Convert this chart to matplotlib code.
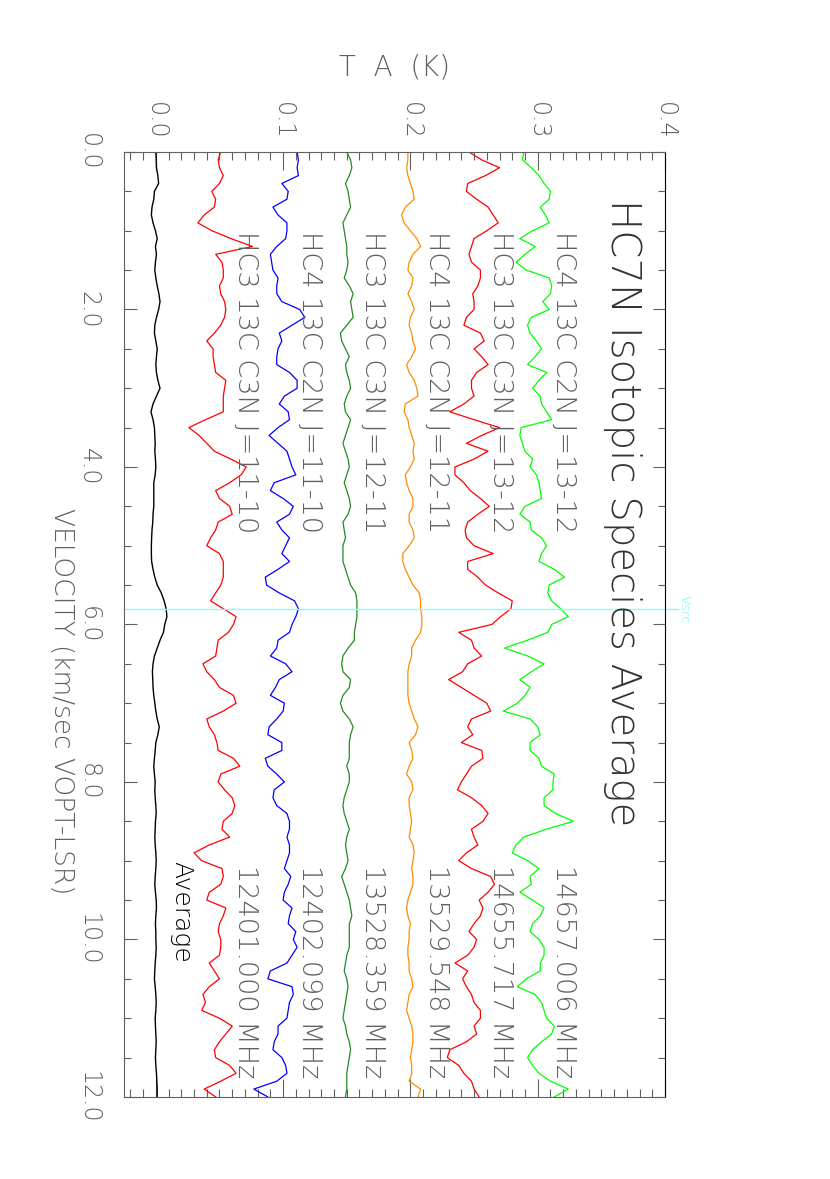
import numpy as np
import matplotlib.pyplot as plt
from matplotlib.ticker import MultipleLocator, FormatStrFormatter

# velocity channels (km/s)
v_start = 0.0
v_step = 0.1
n_chan = 121

# antenna temperature of each spectrum about its baseline, in mK
hc3_c3n_11_10 = [1, -1, 0, 3, 0, -6, -3, -4, -12, -17, -6, 9, 26, -3, 2, 3, 3, 0, 1, 4,
                 5, 4, 1, -4, -10, -5, -5, -4, -3, 5, 4, 3, 3, 3, -11, -24, -16, -10, -4, 9,
                 21, 17, 8, -3, 0, 8, 10, -1, -3, -7, -10, 0, 3, 3, 3, 1, -3, -7, 3, 13,
                 11, 7, -1, -2, -3, -13, -10, -4, 0, 11, 13, 3, -10, -8, -4, -2, -1, 11, 16, 1,
                 -1, 4, 10, 12, 10, 3, 2, 8, -8, -20, -14, 2, 3, 1, -8, -10, 5, 3, 0, -1,
                 1, 1, 0, -8, -4, 0, -8, -13, -11, -14, 0, 10, 5, 0, -4, -3, 8, 13, 1, -12, -3]
hc4_c2n_11_10 = [11, 12, 11, 12, -1, 4, 3, -8, -4, 3, 3, 2, -5, -10, -9, -8, -4, -5, -5, -1,
                 13, 17, 7, -3, -1, -4, -5, -5, 5, 11, 11, 1, -3, 4, 5, -4, -11, -4, 3, 5,
                 7, 10, -7, -10, 0, 8, 5, -5, -1, 5, 2, -1, 5, -4, -14, -13, -3, 9, 12, 10,
                 7, 5, -4, -5, -10, 2, 7, -3, -6, -10, 1, 0, -5, -11, -12, -1, -1, -14, -12, -5,
                 1, -7, -8, -5, 3, 5, 5, 3, 5, 5, 3, 1, 6, 4, 1, 0, 7, 5, 4, 10,
                 8, 11, 7, 3, -10, -12, 7, 8, 5, 4, 3, -4, -4, -7, -8, -1, 2, 3, -5, -23, -12]
hc3_c3n_12_11 = [0, 3, 4, 2, -1, 1, 2, 3, 0, -3, -2, -1, 0, 0, 1, 0, -2, 2, 5, 3,
                 4, 5, 0, -5, -4, -1, 2, -1, 0, 2, 3, 0, -2, -1, 3, 1, -1, -3, -1, 1,
                 2, 0, -2, 0, 2, 3, 1, -3, -2, -1, -3, -3, -3, -1, 1, 3, 7, 8, 8, 8,
                 7, 6, 6, 1, -3, -4, -3, 3, 2, -3, -5, -3, 2, 5, 3, 2, 2, 2, 0, 2,
                 2, 0, -2, -3, -2, 0, 2, 0, -1, 0, 1, -1, -4, -2, 0, 2, 3, 4, 2, 2,
                 2, 2, 0, -1, -2, 0, 1, 0, -1, -2, -3, -1, 0, 2, 3, 2, 1, 0, 0, 0, -1]
hc4_c2n_12_11 = [-2, -2, -3, -2, 0, 2, 3, -4, -7, -5, 0, 5, 8, 2, -1, -2, 2, 1, -2, 1,
                 3, 0, -1, 1, 2, 4, 1, -3, -1, 3, 5, 6, -4, -5, -2, -1, 1, 3, 2, 3,
                 0, -4, -3, -1, 2, 2, -1, -1, 2, 3, -1, -6, -6, -4, -1, 2, 7, 8, 8, 9,
                 9, 8, 4, 1, 1, -1, -2, -2, -2, -2, -1, 1, 3, 6, 4, -1, 1, 2, -1, -3,
                 1, 2, -1, -1, 0, 1, 0, -1, 2, 3, 2, 1, 2, 2, 0, -2, -3, -2, 0, -1,
                 -1, -2, -2, -1, -1, 1, 2, -1, -2, -3, -1, 1, 2, 2, 1, 0, 1, 1, -1, 8, 6]
hc3_c3n_13_12 = [-4, 6, 20, 9, -5, -6, 2, 11, 15, 19, 10, 0, -2, -4, -2, 5, 5, 3, -1, 0,
                 0, -6, -8, 5, 8, 0, 6, 11, 2, -2, -2, 0, -8, -19, 0, 20, 6, -6, 11, 0,
                 -15, -15, -8, -3, 5, 12, 3, -5, -7, -6, 0, 15, -5, -5, 3, 9, 19, 30, 29, 21,
                 14, -12, -2, 0, 6, -5, -9, -20, -10, 0, 10, 13, -2, -5, -1, -10, 6, 7, -2, -6,
                 -10, -13, -2, 6, 11, 7, -2, 0, 3, -6, -12, -2, 13, 16, 11, 4, 7, 5, 0, -4,
                 2, 0, -5, -15, -5, -9, -6, -2, 0, 5, 5, 0, 2, -6, -19, -21, -12, -8, -2, 0, 4]
hc4_c2n_13_12 = [-11, -12, -5, 1, 5, 10, 9, 2, 6, 9, -4, -14, -2, -10, -17, -9, 9, 11, 10, 4,
                 9, -5, -8, -6, -1, 3, -2, -8, 7, 1, -4, 2, 3, 7, 11, -13, -14, -12, -10, -4,
                 -6, -1, 1, 2, 3, -10, -14, -6, -5, 3, 7, 3, 1, 13, 21, 9, 8, 11, 18, 24,
                 11, 8, -8, -26, -8, 5, -5, -14, -6, -10, -16, -27, -6, 0, 2, -6, -6, 1, 3, 13,
                 12, 12, 5, 5, 14, 28, 7, -11, -17, -20, -8, 1, -6, -5, -14, -4, 5, 2, -4, -6,
                 1, 5, 5, 2, 2, -9, -16, -2, 3, 5, 7, 13, 11, 3, -4, -8, -4, 1, 10, 24, 13]
average = [0, 0.3, 0.5, 1.6, 2.2, -1.1, -1.6, -3, -3.5, -2.2, -0.3, 1.1, -0.3, 0.5, -0.3, -0.8, 0, 1.1, 2.4, 3.3,
           2.2, 0.5, -0.8, -1.1, 0, 1.1, 0.5, 0, 0.5, 1.6, 3.3, 0.5, -2.2, -3.8, -2.2, -1.1, -0.8, -0.5, -0.8, -0.3,
           0, -0.5, -1.6, -1.6, -1.6, -1.6, -2.2, -2.4, -3, -3.3, -3.5, -3.5, -3.3, -2.2, -0.8, 1.1, 4.3, 6.5, 8.1, 8.7,
           7, 6, 3.3, 1.1, -1.1, -2.2, -2.7, -2.4, -2.2, -1.6, -0.8, 0, 1.1, 2.7, 1.6, 0, -0.5, -1.1, -1.6, -1.1,
           -0.5, -0.8, -0.5, 0, 0.3, -0.3, -0.5, -0.8, -0.5, 0, 0.3, 0, -0.5, -0.8, -0.3, 0.3, 0.5, 0, -0.3, 0,
           0, 0.3, 0, -0.5, -0.8, -1.1, -0.5, 0, 0.3, 0, -0.5, -0.3, 0, 0.3, 0, -0.3, 0, 0.5, 0.8, 1.1, 1.1]

spectra = [hc3_c3n_11_10, hc4_c2n_11_10, hc3_c3n_12_11,
           hc4_c2n_12_11, hc3_c3n_13_12, hc4_c2n_13_12]
names = ["HC3 13C C3N J=11-10", "HC4 13C C2N J=11-10", "HC3 13C C3N J=12-11",
         "HC4 13C C2N J=12-11", "HC3 13C C3N J=13-12", "HC4 13C C2N J=13-12"]
freqs = ["12401.000 MHz", "12402.099 MHz", "13528.359 MHz",
         "13529.548 MHz", "14655.717 MHz", "14657.006 MHz"]
offsets = [0.05, 0.10, 0.15, 0.20, 0.25, 0.30]
colors = ["#ff0000", "#0000ff", "#228b22", "#ff8c00", "#ff0000", "#00ff00"]
vsrc = 5.81

vel = v_start + v_step * np.arange(n_chan)
grey = "#606060"
plt.rcParams["font.weight"] = "light"

fig = plt.figure(figsize=(8.3, 11.79), dpi=100)
ax = fig.add_axes([0.1494, 0.0696, 0.6518, 0.8015])

ax.plot(np.array(average) / 1000.0, vel, color="black", lw=1.0)
for spec, off, col in zip(spectra, offsets, colors):
    ax.plot(off + np.array(spec) / 1000.0, vel, color=col, lw=0.9)

ax.axhline(vsrc, xmin=0, xmax=1.024, color="#80ffff", lw=1.0, clip_on=False)
ax.text(0.4157, vsrc, "Vsrc", rotation=-90, ha="center", va="center",
        fontsize=9.5, color="#70f0f0")

ax.set_xlim(-0.025, 0.4)
ax.set_ylim(12, 0)

# labels beside the spectra (the plot is rotated: text reads top to bottom)
for off, name, fq in zip(offsets, names, freqs):
    ax.text(off + 0.0205, 1.0, name, rotation=-90, ha="center", va="top",
            fontsize=19.5, color=grey)
    ax.text(off + 0.0205, 9.05, fq, rotation=-90, ha="center", va="top",
            fontsize=19.5, color=grey)
ax.text(0.020, 9.0, "Average", rotation=-90, ha="center", va="top",
        fontsize=18, color="black")
ax.text(0.367, 0.6, "HC7N Isotopic Species Average", rotation=-90,
        ha="center", va="top", fontsize=29, color="#333333")

# axis titles
ax.text(-0.074, 6.98, "VELOCITY (km/sec VOPT-LSR)", rotation=-90,
        ha="center", va="center", fontsize=19, color=grey)
ax.text(0.1877, -1.07, "T  A  (K)", ha="center", va="center",
        fontsize=20, color=grey)

ax.xaxis.set_major_locator(MultipleLocator(0.1))
ax.xaxis.set_minor_locator(MultipleLocator(0.01))
ax.yaxis.set_major_locator(MultipleLocator(2.0))
ax.yaxis.set_minor_locator(MultipleLocator(0.5))
ax.xaxis.set_major_formatter(FormatStrFormatter("%.1f"))
ax.yaxis.set_major_formatter(FormatStrFormatter("%.1f"))

ax.tick_params(axis="x", which="major", direction="in", length=13, width=0.8,
               color=grey, top=True, bottom=True, labeltop=True, labelbottom=False,
               labelrotation=-90, labelsize=17, labelcolor=grey, pad=9)
ax.tick_params(axis="x", which="minor", direction="in", length=6, width=0.8,
               color=grey, top=True, bottom=True)
ax.tick_params(axis="y", which="major", direction="in", length=9, width=0.8,
               color=grey, left=True, right=True, labelleft=True,
               labelrotation=-90, labelsize=17, labelcolor=grey, pad=17)
ax.tick_params(axis="y", which="minor", direction="in", length=5, width=0.8,
               color=grey, left=True, right=True)
for lab in ax.get_yticklabels():
    lab.set_va("center")

for side in ["left", "top", "bottom"]:
    ax.spines[side].set_color(grey)
ax.spines["right"].set_color("black")

fig.savefig("out.png", dpi=100)
